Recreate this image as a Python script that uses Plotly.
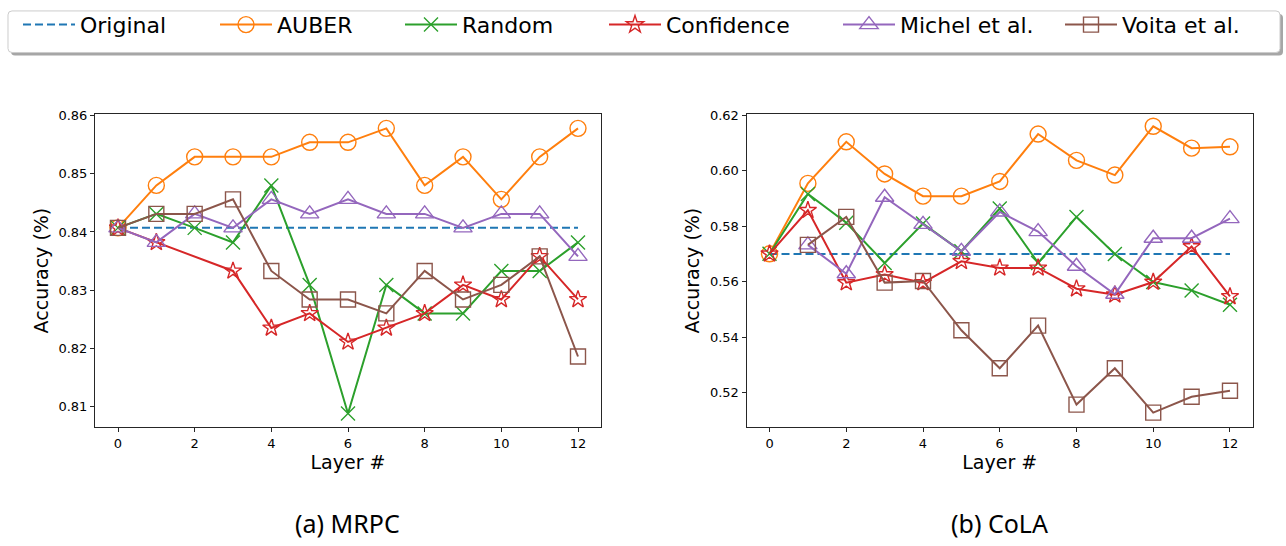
import plotly.graph_objects as go

W, H = 1286, 546

layers = list(range(13))
layers_no2 = [0, 1, 3, 4, 5, 6, 7, 8, 9, 10, 11, 12]
layers_from1 = list(range(1, 13))

# ---- MRPC ----
mrpc_original = [0.8407] * 13
mrpc_auber = [0.8407, 0.8480, 0.8529, 0.8529, 0.8529, 0.8554, 0.8554, 0.8578, 0.8480, 0.8529, 0.8456, 0.8529, 0.8578]
mrpc_random = [0.8407, 0.8431, 0.8407, 0.8382, 0.8480, 0.8309, 0.8088, 0.8309, 0.8260, 0.8260, 0.8333, 0.8333, 0.8382]
mrpc_confidence = [0.8407, 0.8382, 0.8333, 0.8235, 0.8260, 0.8211, 0.8235, 0.8260, 0.8309, 0.8284, 0.8358, 0.8284]
mrpc_michel = [0.8407, 0.8382, 0.8431, 0.8407, 0.8456, 0.8431, 0.8456, 0.8431, 0.8431, 0.8407, 0.8431, 0.8431, 0.8358]
mrpc_voita = [0.8407, 0.8431, 0.8431, 0.8456, 0.8333, 0.8284, 0.8284, 0.8260, 0.8333, 0.8284, 0.8309, 0.8358, 0.8186]

# ---- CoLA ----
cola_original = [0.570] * 13
cola_auber = [0.5701, 0.5955, 0.6105, 0.5989, 0.5909, 0.5909, 0.5962, 0.6133, 0.6038, 0.5985, 0.6161, 0.6082, 0.6087]
cola_random = [0.5701, 0.5917, 0.5813, 0.5668, 0.5810, 0.5710, 0.5864, 0.5668, 0.5834, 0.5700, 0.5599, 0.5569, 0.5517]
cola_confidence = [0.5701, 0.5858, 0.5597, 0.5626, 0.5597, 0.5674, 0.5650, 0.5650, 0.5575, 0.5553, 0.5599, 0.5727, 0.5547]
cola_michel = [0.5733, 0.5629, 0.5905, 0.5807, 0.5710, 0.5852, 0.5781, 0.5656, 0.5555, 0.5757, 0.5757, 0.5828]
cola_voita = [0.5733, 0.5834, 0.5597, 0.5603, 0.5425, 0.5288, 0.5442, 0.5157, 0.5288, 0.5128, 0.5185, 0.5207]

x_ticks = [0, 2, 4, 6, 8, 10, 12]
panel_titles = ["(a) MRPC", "(b) CoLA"]
series_names = ["Original", "AUBER", "Random", "Confidence", "Michel et al.", "Voita et al."]

colors = ["#1f77b4", "#ff7f0e", "#2ca02c", "#d62728", "#9467bd", "#8c564b"]
symbols = [None, "circle-open", "x-thin-open", "star-open", "triangle-up-open", "square-open"]
msizes = [0, 16, 14, 13, 16, 15]

FONT = "DejaVu Sans"

fig = go.Figure()

panels = [
    ("x", "y", [(layers, mrpc_original), (layers, mrpc_auber), (layers, mrpc_random),
                (layers_no2, mrpc_confidence), (layers, mrpc_michel), (layers, mrpc_voita)]),
    ("x2", "y2", [(layers, cola_original), (layers, cola_auber), (layers, cola_random),
                  (layers, cola_confidence), (layers_from1, cola_michel), (layers_from1, cola_voita)]),
]

legend_ids = ["legend", "legend2", "legend3", "legend4", "legend5", "legend6"]

for pi, (xa, ya, series) in enumerate(panels):
    for si, (xs, ys) in enumerate(series):
        if si == 0:
            tr = go.Scatter(x=xs, y=ys, mode="lines", name=series_names[si],
                            line=dict(color=colors[si], width=2, dash="8px,4px"))
        else:
            tr = go.Scatter(x=xs, y=ys, mode="lines+markers", name=series_names[si],
                            line=dict(color=colors[si], width=2),
                            marker=dict(symbol=symbols[si], size=msizes[si], color=colors[si],
                                        line=dict(color=colors[si], width=1.4)))
        tr.update(xaxis=xa, yaxis=ya, showlegend=(pi == 0), legend=legend_ids[si],
                  legendgroup=series_names[si])
        fig.add_trace(tr)

def px_x(p):
    return p / W

def px_y(p):
    return 1 - p / H

axis_common = dict(showline=True, mirror=True, linecolor="#262626", linewidth=1,
                   ticks="outside", ticklen=4, tickcolor="#262626", tickwidth=1,
                   showgrid=False, zeroline=False,
                   tickfont=dict(family=FONT, size=13, color="black"))

y_dom = [px_y(426), px_y(109)]
fig.update_layout(
    width=W, height=H, margin=dict(l=0, r=0, t=0, b=0),
    plot_bgcolor="white", paper_bgcolor="white",
    xaxis=dict(domain=[px_x(95), px_x(601)], range=[-0.6, 12.6], tickvals=x_ticks,
               title=dict(text="Layer #", font=dict(family=FONT, size=19, color="black"), standoff=5),
               anchor="y", **axis_common),
    yaxis=dict(domain=y_dom, range=[0.80643, 0.8603], dtick=0.01, tickformat=".2f",
               title=dict(text="Accuracy (%)", font=dict(family=FONT, size=19, color="black"), standoff=4),
               anchor="x", **axis_common),
    xaxis2=dict(domain=[px_x(746.5), px_x(1253)], range=[-0.6, 12.6], tickvals=x_ticks,
                title=dict(text="Layer #", font=dict(family=FONT, size=19, color="black"), standoff=5),
                anchor="y2", **axis_common),
    yaxis2=dict(domain=y_dom, range=[0.5075, 0.6206], dtick=0.02, tickformat=".2f",
                title=dict(text="Accuracy (%)", font=dict(family=FONT, size=19, color="black"), standoff=5),
                anchor="x2", **axis_common),
)

# legends: one per entry, placed along a single framed row
text_x = [80, 277, 462, 666, 900, 1122]
ITEMW = 52
leg_layout = {}
for i, lid in enumerate(legend_ids):
    leg_layout[lid] = dict(x=px_x(text_x[i] - ITEMW - 10), xanchor="left", y=px_y(19), yanchor="middle",
                           orientation="h", bgcolor="rgba(0,0,0,0)", borderwidth=0,
                           itemwidth=ITEMW,
                           font=dict(family=FONT, size=22, color="black"))
fig.update_layout(**leg_layout)

def rounded_rect(x0, y0, x1, y1, r):
    def P(x, y):
        return f"{px_x(x):.5f},{px_y(y):.5f}"
    return (f"M {P(x0 + r, y0)} L {P(x1 - r, y0)} Q {P(x1, y0)} {P(x1, y0 + r)} "
            f"L {P(x1, y1 - r)} Q {P(x1, y1)} {P(x1 - r, y1)} L {P(x0 + r, y1)} "
            f"Q {P(x0, y1)} {P(x0, y1 - r)} L {P(x0, y0 + r)} Q {P(x0, y0)} {P(x0 + r, y0)} Z")

fig.add_shape(type="path", xref="paper", yref="paper", path=rounded_rect(11, 8, 1283, 50, 4),
              fillcolor="#a6a6a6", line=dict(width=0), layer="above")
fig.add_shape(type="path", xref="paper", yref="paper", path=rounded_rect(8, 5, 1280, 47, 4),
              fillcolor="white", line=dict(color="#cccccc", width=1), layer="above")

title_cx = [347, 999]
for i, t in enumerate(panel_titles):
    fig.add_annotation(x=px_x(title_cx[i]), y=px_y(523), xref="paper", yref="paper", text=t, showarrow=False,
                       xanchor="center", yanchor="middle",
                       font=dict(family="Noto Sans", size=25, color="black"))

fig.write_html("out.html", config={"displayModeBar": False},
               post_script="document.body.style.margin='0px';")
